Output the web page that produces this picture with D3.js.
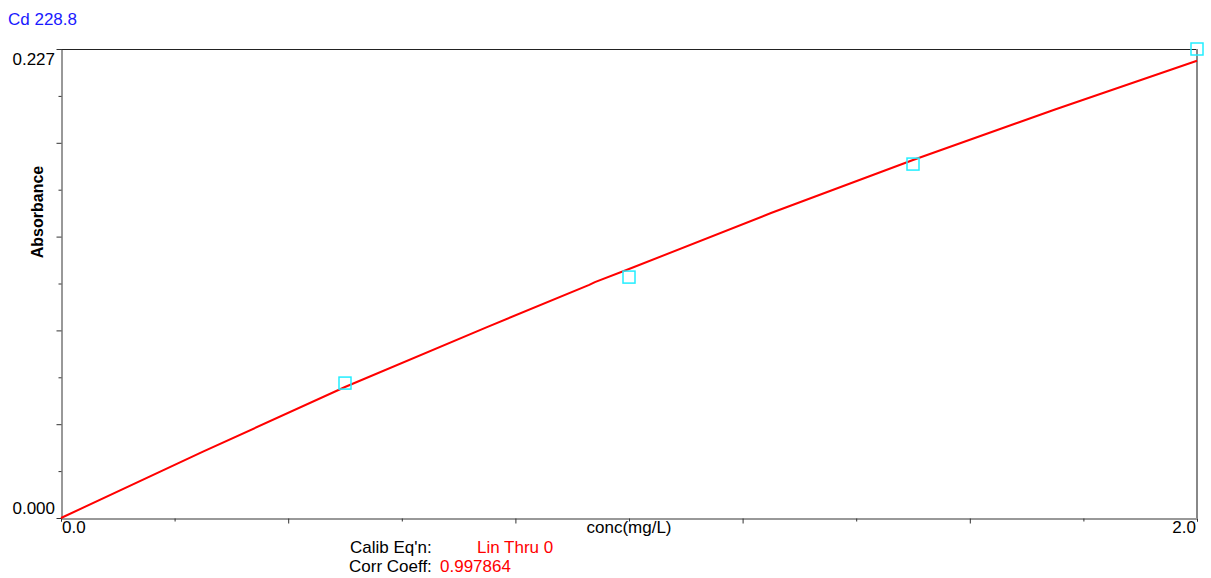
<!DOCTYPE html>
<html>
<head>
<meta charset="utf-8">
<script src="https://cdn.jsdelivr.net/npm/d3@7"></script>
<style>
  body { margin: 0; background: #fff; }
  text { font-family: "Liberation Sans", Arial, sans-serif; }
</style>
</head>
<body>
<script>
/* CONSTANTS AND GLOBALS */
const width = 1211,
  height = 578,
  margin = { top: 49, right: 14, bottom: 60, left: 61 };

/* DATA */
const title = "Cd 228.8";
// calibration standards (conc mg/L, absorbance)
const stdConc = [0.5, 1.0, 1.5, 2.0];
const stdAbs = [0.0653, 0.1166, 0.1713, 0.2270];
// fitted curve
const fitConc = [0, 0.25, 0.5, 0.75, 0.93, 0.94, 1.0, 1.25, 1.5, 1.75, 2.0];
const fitAbs = [0, 0.0321, 0.0634, 0.0924, 0.1128, 0.1142, 0.1205, 0.1476, 0.1733, 0.1977, 0.2213];
// axis ticks
const xTicks = [0, 0.2, 0.4, 0.6, 0.8, 1.0, 1.2, 1.4, 1.6, 1.8, 2.0];
const xMajor = [0.4, 0.8, 1.2, 1.6];
const xLabels = ["0.0", "2.0"];
const yTicks = [0, 0.0227, 0.0454, 0.0681, 0.0908, 0.1135, 0.1362, 0.1589, 0.1816, 0.2043, 0.227];
const yMajor = [0, 0.0454, 0.0908, 0.1362, 0.1816, 0.227];
const yLabels = ["0.000", "0.227"];

const svg = d3.select("body")
  .append("svg")
  .attr("width", width)
  .attr("height", height);

// scales
const xScale = d3.scaleLinear()
  .domain([0, 2.0])
  .range([margin.left, width - margin.right]);

const yScale = d3.scaleLinear()
  .domain([0, 0.227])
  .range([height - margin.bottom, margin.top]);

const x0 = xScale.range()[0], x1 = xScale.range()[1];
const y0 = yScale.range()[0], y1 = yScale.range()[1];

// title
svg.append("text")
  .attr("x", 8)
  .attr("y", 25)
  .attr("fill", "#1a1aff")
  .attr("font-size", "17px")
  .text(title);

// frame: top and right
svg.append("line")
  .attr("x1", x0).attr("x2", x1)
  .attr("y1", y1 + 0.5).attr("y2", y1 + 0.5)
  .attr("stroke", "#222");
svg.append("line")
  .attr("x1", x1).attr("x2", x1)
  .attr("y1", y1).attr("y2", y0)
  .attr("stroke", "#888")
  .attr("stroke-width", 2);

// x axis
const xAxis = d3.axisBottom(xScale)
  .tickValues(xTicks)
  .tickFormat("")
  .tickSizeOuter(0)
  .tickSize(3);

const gx = svg.append("g")
  .attr("transform", `translate(0, ${y0 + 0.5})`)
  .call(xAxis);
gx.selectAll(".tick line")
  .attr("y2", d => xMajor.includes(d) ? 5 : 3);
gx.selectAll("line, path").attr("stroke", "#333");

// y axis
const yAxis = d3.axisLeft(yScale)
  .tickValues(yTicks)
  .tickFormat("")
  .tickSizeOuter(0)
  .tickSize(3);

const gy = svg.append("g")
  .attr("transform", `translate(${x0 + 0.5}, 0)`)
  .call(yAxis);
gy.selectAll(".tick line")
  .attr("x2", d => yMajor.includes(d) ? -5 : -3);
gy.selectAll("line, path").attr("stroke", "#333");

// y end labels (sit inside the ends of the axis)
svg.append("text")
  .attr("x", 55).attr("y", yScale(0) - 4)
  .attr("text-anchor", "end")
  .attr("font-size", "17px")
  .text(yLabels[0]);
svg.append("text")
  .attr("x", 55).attr("y", yScale(0.227) + 16)
  .attr("text-anchor", "end")
  .attr("font-size", "17px")
  .text(yLabels[1]);

// x end labels
svg.append("text")
  .attr("x", xScale(0) + 1).attr("y", y0 + 15)
  .attr("font-size", "17px")
  .text(xLabels[0]);
svg.append("text")
  .attr("x", xScale(2.0) - 1).attr("y", y0 + 15)
  .attr("text-anchor", "end")
  .attr("font-size", "17px")
  .text(xLabels[1]);

// axis titles
svg.append("text")
  .attr("x", xScale(1.0))
  .attr("y", y0 + 15)
  .attr("text-anchor", "middle")
  .attr("font-size", "17px")
  .text("conc(mg/L)");

svg.append("text")
  .attr("transform", "translate(43, 212) rotate(-90)")
  .attr("text-anchor", "middle")
  .attr("font-size", "16px")
  .attr("font-weight", "bold")
  .text("Absorbance");

// fitted curve
const line = d3.line()
  .x((d, i) => xScale(fitConc[i]))
  .y(d => yScale(d));

svg.append("path")
  .datum(fitAbs)
  .attr("d", line)
  .attr("fill", "none")
  .attr("stroke", "#ff0000")
  .attr("stroke-width", 2);

// standards
svg.selectAll("rect.std")
  .data(stdAbs)
  .enter()
  .append("rect")
  .attr("class", "std")
  .attr("x", (d, i) => xScale(stdConc[i]) - 6)
  .attr("y", d => yScale(d) - 6)
  .attr("width", 12)
  .attr("height", 12)
  .attr("fill", "none")
  .attr("stroke", "#22eeff")
  .attr("stroke-width", 1.5);

// calibration info
svg.append("text")
  .attr("x", 350).attr("y", 553)
  .attr("font-size", "17px")
  .text("Calib Eq'n:");
svg.append("text")
  .attr("x", 477).attr("y", 553)
  .attr("font-size", "17px")
  .attr("fill", "#ff0000")
  .text("Lin Thru 0");
svg.append("text")
  .attr("x", 349).attr("y", 572)
  .attr("font-size", "17px")
  .text("Corr Coeff:");
svg.append("text")
  .attr("x", 440).attr("y", 572)
  .attr("font-size", "17px")
  .attr("fill", "#ff0000")
  .text("0.997864");
</script>
</body>
</html>
